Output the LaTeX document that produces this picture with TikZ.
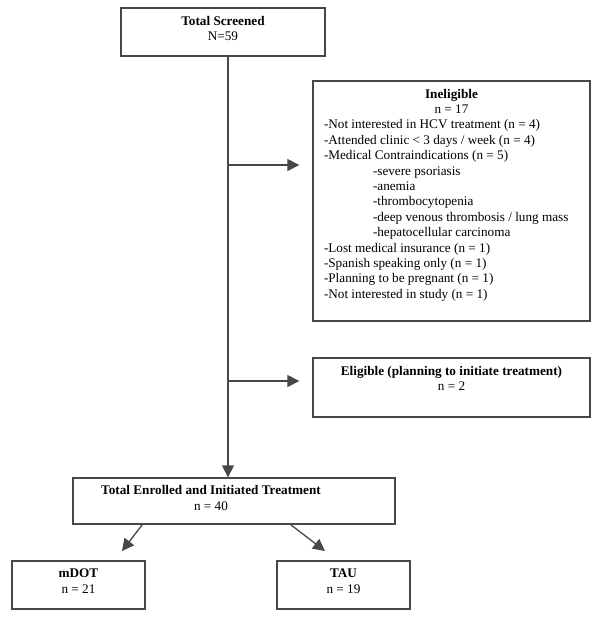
\documentclass[tikz,border=0pt]{standalone}
\usepackage{fontspec}
\setmainfont{Liberation Serif}
\usepackage{tikz}
\usetikzlibrary{arrows.meta,positioning}

% box body: height, width, top gap, text
\newcommand{\boxbody}[4]{\parbox[c][#1][t]{#2}{\vspace*{#3}\centering #4}}

\begin{document}
\begin{tikzpicture}[x=1pt, y=-1pt,
  font=\fontsize{13.2}{15.4}\selectfont,
  box/.style={draw=black!72, line width=1.3pt, inner sep=0pt},
  link/.style={draw=black!72, line width=1.3pt, -{Triangle[length=12pt,width=12pt]}}]

\useasboundingbox (0,0) rectangle (600,622);

% Position of the main vertical line
\def\trunkx{228}

% Top box
\node[box] (screened) at (223,32) {\boxbody{48pt}{204pt}{8pt}{\textbf{Total Screened}\\N=59}};

% Excluded participants
\node[box] (inel) at (451.5,201) {\parbox[c][240pt][t]{277pt}{\vspace*{8pt}\centering
  \textbf{Ineligible}\\ n = 17\par
  \raggedright\leftskip=11pt
  -Not interested in HCV treatment (n = 4)\\
  -Attended clinic < 3 days / week (n = 4)\\
  -Medical Contraindications (n = 5)\\
  \hspace*{49pt}-severe psoriasis\\
  \hspace*{49pt}-anemia\\
  \hspace*{49pt}-thrombocytopenia\\
  \hspace*{49pt}-deep venous thrombosis / lung mass\\
  \hspace*{49pt}-hepatocellular carcinoma\\
  -Lost medical insurance (n = 1)\\
  -Spanish speaking only (n = 1)\\
  -Planning to be pregnant (n = 1)\\
  -Not interested in study (n = 1)}};

\node[box] (elig) at (451.5,387.5) {\boxbody{59pt}{277pt}{8pt}{\textbf{Eligible (planning to initiate treatment)}\\n = 2}};

% Enrolled and the two arms
\node[box] (enrolled) at (234,501) {\boxbody{46pt}{322pt}{7.5pt}{\rightskip=46pt plus 1fil
  \textbf{Total Enrolled and Initiated Treatment}\\n = 40}};

\node[box] (mdot) at (78.5,585) {\boxbody{48pt}{133pt}{8pt}{\textbf{mDOT}\\n = 21}};
\node[box] (tau) at (343.5,585) {\boxbody{48pt}{133pt}{8pt}{\textbf{TAU}\\n = 19}};

% Branch points and arrow ends
\coordinate (fork1) at (\trunkx,165);
\coordinate (fork2) at (\trunkx,381);
\coordinate (mdottip) at (122,551);
\coordinate (tautip) at (325,551);

% Connectors
\draw[link] (screened.south -| fork1) -- (enrolled.north -| fork1);
\draw[link, shorten >=13pt] (fork1) -- (fork1 -| inel.west);
\draw[link, shorten >=13pt] (fork2) -- (fork2 -| elig.west);
\draw[link] ([xshift=70pt]enrolled.south west) -- (mdottip);
\draw[link] ([xshift=-105pt]enrolled.south east) -- (tautip);

\end{tikzpicture}
\end{document}
